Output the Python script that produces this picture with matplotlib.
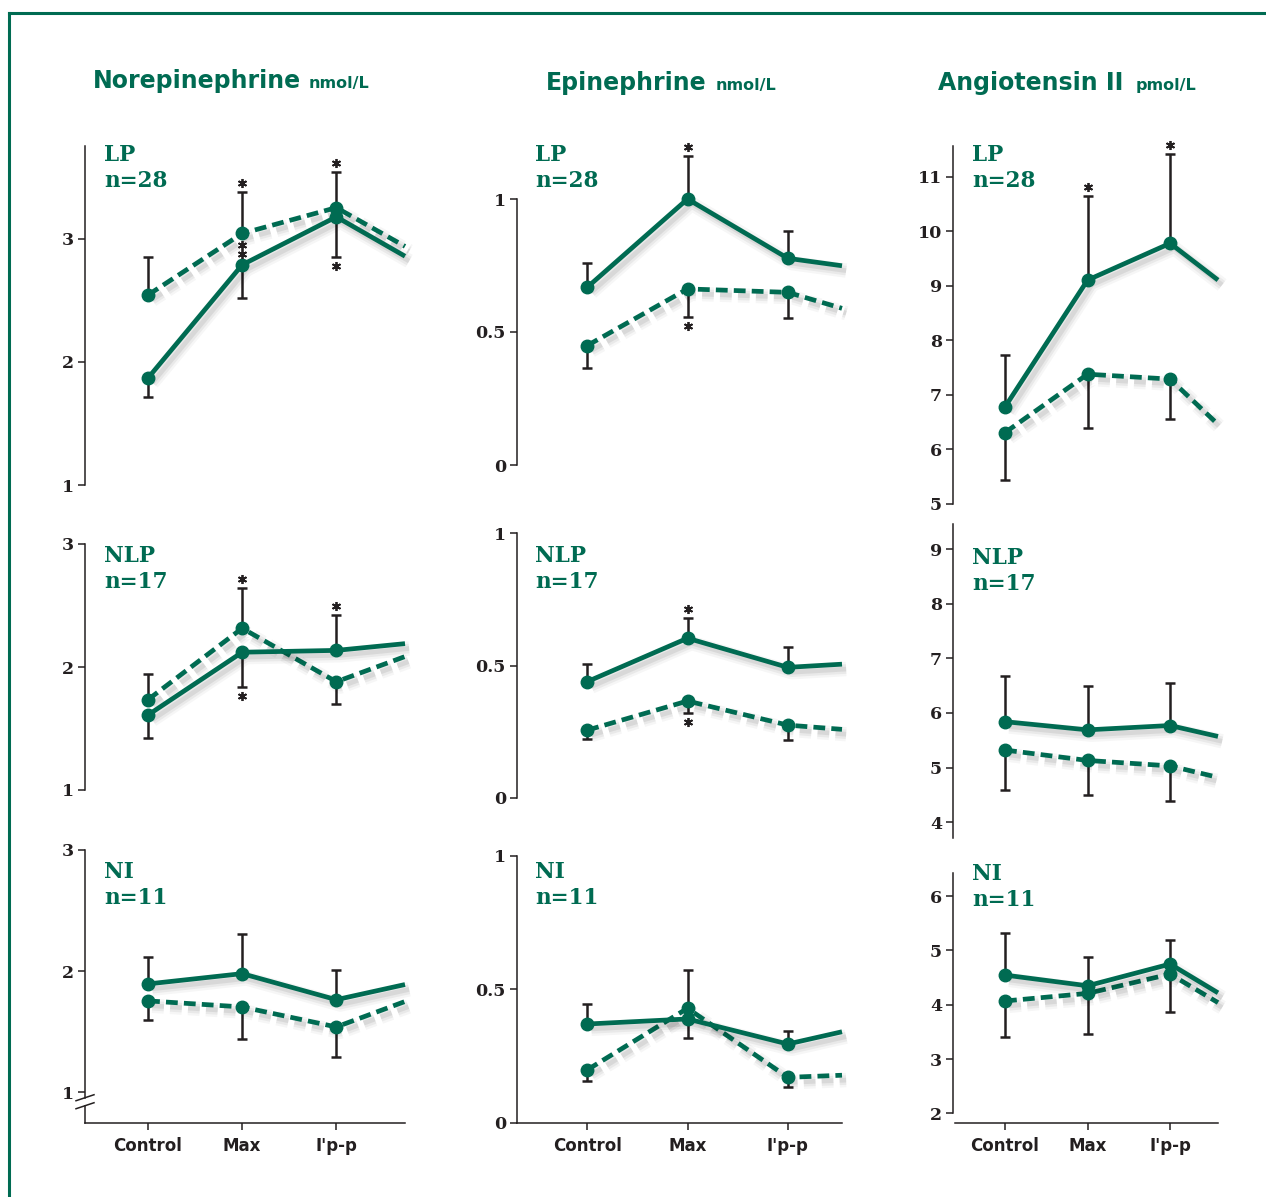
import matplotlib
matplotlib.use('Agg')
import matplotlib.pyplot as plt
from matplotlib import patheffects as pe
from matplotlib.transforms import offset_copy
from matplotlib.lines import Line2D

# ---------------- data ----------------
times = ['Control', 'Max', "I'p-p"]
groups = ['LP', 'NLP', 'NI']
group_n = [28, 17, 11]
hormones = ['Norepinephrine', 'Epinephrine', 'Angiotensin II']
units = ['nmol/L', 'nmol/L', 'pmol/L']

# values: Control, Max, I'p-p, following point (rows: LP, NLP, NI)
ne_solid = [[1.87, 2.79, 3.18, 2.86], [1.61, 2.12, 2.135, 2.19], [1.895, 1.98, 1.765, 1.89]]
ne_dashed = [[2.545, 3.045, 3.255, 2.94], [1.735, 2.315, 1.88, 2.085], [1.755, 1.705, 1.54, 1.75]]
# one-sided SEM (positive = drawn upward, negative = drawn downward)
ne_solid_err = [[-0.155, -0.27, -0.33], [-0.185, -0.285, 0.285], [0.225, 0.33, 0.245]]
ne_dashed_err = [[0.31, 0.34, 0.29], [0.21, 0.33, -0.18], [-0.16, -0.265, -0.25]]

epi_solid = [[0.668, 1.0, 0.777, 0.749], [0.439, 0.603, 0.493, 0.505], [0.37, 0.389, 0.295, 0.341]]
epi_dashed = [[0.449, 0.662, 0.649, 0.589], [0.256, 0.366, 0.275, 0.259], [0.198, 0.429, 0.17, 0.178]]
epi_solid_err = [[0.09, 0.16, 0.104], [0.066, 0.075, 0.078], [0.074, -0.073, 0.05]]
epi_dashed_err = [[-0.086, -0.104, -0.098], [-0.035, -0.047, -0.057], [-0.04, 0.144, -0.035]]

ang_solid = [[6.78, 9.106, 9.78, 9.106], [5.84, 5.69, 5.77, 5.57], [4.547, 4.35, 4.75, 4.22]]
ang_dashed = [[6.31, 7.38, 7.29, 6.46], [5.32, 5.13, 5.03, 4.82], [4.07, 4.21, 4.565, 4.04]]
ang_solid_err = [[0.96, 1.55, 1.63], [0.84, 0.81, 0.77], [0.77, 0.53, 0.44]]
ang_dashed_err = [[-0.87, -0.98, -0.73], [-0.74, -0.63, -0.65], [-0.66, -0.75, -0.695]]

# significance stars: (series, time index, placement)
ne_stars = [[('dashed', 1, 'cap'), ('solid', 1, 'dot2'), ('dashed', 2, 'cap'), ('solid', 2, 'cap')],
            [('dashed', 1, 'cap'), ('solid', 1, 'cap'), ('solid', 2, 'cap')],
            []]
epi_stars = [[('solid', 1, 'cap'), ('dashed', 1, 'cap')],
             [('solid', 1, 'cap'), ('dashed', 1, 'cap')],
             []]
ang_stars = [[('solid', 1, 'cap'), ('solid', 2, 'cap')], [], []]

ne_ticks = [[1, 2, 3], [1, 2, 3], [1, 2, 3]]
epi_ticks = [[0, 0.5, 1], [0, 0.5, 1], [0, 0.5, 1]]
ang_ticks = [[5, 6, 7, 8, 9, 10, 11], [4, 5, 6, 7, 8, 9], [2, 3, 4, 5, 6]]

# ---------------- layout (pixels) ----------------
W, H = 1266, 1197
GREEN = '#006B52'
INK = '#231F20'

col_px = [(85, 405), (517, 842), (953, 1218)]
col_xlim = [(-0.67, 2.73), (-0.70, 2.54), (-0.63, 2.58)]
row_px = [[(146, 485), (544, 790), (850, 1122.7)],
          [(199, 465), (533, 798), (856, 1122.7)],
          [(145.7, 504), (524, 838), (873.3, 1122.7)]]
row_ylim = [[(1, 3.756), (1, 3), (0.75, 3)],
            [(0, 1), (0, 1), (0, 1)],
            [(5, 11.57), (3.71, 9.46), (1.83, 6.42)]]
label_x = [104, 535, 972]
label_top = [[146, 547, 863], [146, 547, 863], [146, 549, 865]]
title_x = [(93, 309), (546, 716), (938, 1136)]
title_base = [88, 90, 90]

fig = plt.figure(figsize=(W / 100, H / 100), dpi=100)

# frame
fig.add_artist(Line2D([9 / W, 1], [1 - 13 / H, 1 - 13 / H], color=GREEN, lw=2.2,
                      transform=fig.transFigure))
fig.add_artist(Line2D([9 / W, 9 / W], [1 - 13 / H, 0], color=GREEN, lw=2.2,
                      transform=fig.transFigure))

data = [
    (ne_solid, ne_dashed, ne_solid_err, ne_dashed_err, ne_stars, ne_ticks),
    (epi_solid, epi_dashed, epi_solid_err, epi_dashed_err, epi_stars, epi_ticks),
    (ang_solid, ang_dashed, ang_solid_err, ang_dashed_err, ang_stars, ang_ticks),
]

LW = 3.4
shadow = [pe.SimpleLineShadow(offset=(3, -3.5), shadow_color='black', alpha=0.035, linewidth=LW + 7),
          pe.SimpleLineShadow(offset=(3, -3.5), shadow_color='black', alpha=0.05, linewidth=LW + 3.5),
          pe.SimpleLineShadow(offset=(3, -3.5), shadow_color='black', alpha=0.07, linewidth=LW),
          pe.Normal()]

serif = 'DejaVu Serif'
sans = 'DejaVu Sans'

for c in range(3):
    solid, dashed, serr, derr, stars, ticks = data[c]
    xl, xr = col_px[c]
    xlo, xhi = col_xlim[c]
    xs = [0, 1, 2, xhi]
    # titles
    fig.text(title_x[c][0] / W, 1 - title_base[c] / H, hormones[c], color=GREEN,
             fontsize=17, fontweight='bold', family=sans, va='baseline', ha='left')
    fig.text(title_x[c][1] / W, 1 - title_base[c] / H, units[c], color=GREEN,
             fontsize=11.5, fontweight='bold', family=sans, va='baseline', ha='left')
    for r in range(3):
        top, bot = row_px[c][r]
        ax = fig.add_axes([xl / W, 1 - bot / H, (xr - xl) / W, (bot - top) / H])
        ax.patch.set_alpha(0)
        ylo, yhi = row_ylim[c][r]
        ax.set_xlim(xlo, xhi)
        ax.set_ylim(ylo, yhi)
        for s in ['top', 'right']:
            ax.spines[s].set_visible(False)
        ax.spines['left'].set_color(INK)
        ax.spines['left'].set_linewidth(1.1)
        ax.spines['bottom'].set_color(INK)
        ax.spines['bottom'].set_linewidth(1.1)
        ax.set_yticks(ticks[r])
        ax.set_yticklabels([f'{v:g}' for v in ticks[r]], family=serif, fontweight='bold',
                           fontsize=12.5, color=INK)
        ax.tick_params(axis='y', direction='out', length=5, width=1.1, color=INK, pad=3)
        if c == 2 and r == 2:
            ax.spines['left'].set_bounds(2, yhi)
        elif c == 0 and r == 2:
            brk_hi, brk_lo = 0.956, 0.89
            ax.spines['left'].set_bounds(brk_hi, yhi)
            fa = lambda v: (v - ylo) / (yhi - ylo)
            ax.plot([0, 0], [0, fa(brk_lo)], color=INK, lw=1.1, transform=ax.transAxes,
                    clip_on=False)
            dx = 9 / (xr - xl)
            dy = 3 / (bot - top)
            for v in (brk_hi, brk_lo):
                ax.plot([-dx, dx], [fa(v) - dy, fa(v) + dy], color=INK, lw=1.1,
                        transform=ax.transAxes, clip_on=False)
        else:
            ax.spines['left'].set_bounds(ylo, yhi)

        if r == 2:
            ax.set_xticks([0, 1, 2])
            ax.set_xticklabels(times, family=sans, fontweight='bold', fontsize=12, color=INK)
            ax.tick_params(axis='x', direction='out', length=5, width=1.1, color=INK, pad=5)
            if c == 2:
                ax.spines['bottom'].set_bounds(-0.6, xhi)
        else:
            ax.set_xticks([])
            ax.spines['bottom'].set_visible(False)

        # error bars (one-sided)
        for vals, errs in ((solid[r], serr[r]), (dashed[r], derr[r])):
            lower = [-e if e < 0 else 0 for e in errs]
            upper = [e if e > 0 else 0 for e in errs]
            ax.errorbar(xs[:3], vals[:3], yerr=[lower, upper], fmt='none', ecolor=INK,
                        elinewidth=1.8, capsize=3.6, capthick=1.8, zorder=2, clip_on=False)

        # lines
        ax.plot(xs, solid[r], color=GREEN, lw=LW, solid_capstyle='butt', zorder=4,
                clip_on=False, path_effects=shadow)
        ax.plot(xs, dashed[r], color=GREEN, lw=LW, dashes=(2.5, 1.3), zorder=3,
                clip_on=False, path_effects=shadow)
        ax.plot(xs[:3], solid[r][:3], 'o', color=GREEN, ms=9, zorder=5, clip_on=False)
        ax.plot(xs[:3], dashed[r][:3], 'o', color=GREEN, ms=9, zorder=5, clip_on=False)

        # stars
        for series, i, kind in stars[r]:
            vals = solid[r] if series == 'solid' else dashed[r]
            errs = serr[r] if series == 'solid' else derr[r]
            if kind == 'cap':
                yv = vals[i] + errs[i]
                offs = [6.5 if errs[i] > 0 else -6.5]
            else:
                yv = vals[i]
                offs = [7.5, 14]
            for o in offs:
                tr = offset_copy(ax.transData, fig=fig, x=0, y=o, units='points')
                ax.plot([i], [yv], marker=(6, 2, 0), ms=6.5, mew=1.3, color=INK,
                        linestyle='none', transform=tr, clip_on=False, zorder=6)

        # group label
        lt = label_top[c][r]
        fig.text(label_x[c] / W, 1 - (lt - 2) / H, f'{groups[r]}\nn={group_n[r]}',
                 color=GREEN, fontsize=15.5, fontweight='bold', family=serif,
                 va='top', ha='left', linespacing=1.22)

fig.savefig('out.png', dpi=100)
